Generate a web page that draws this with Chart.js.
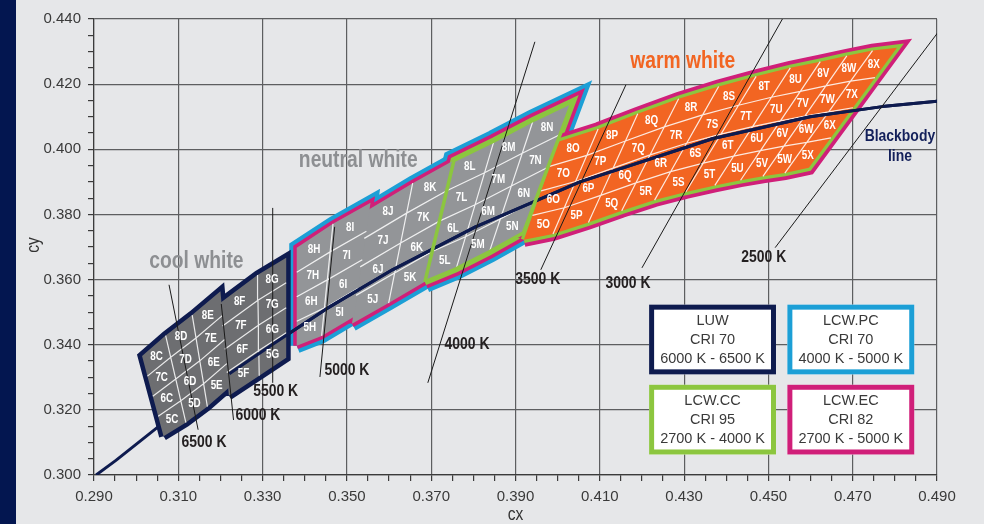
<!DOCTYPE html>
<html>
<head>
<meta charset="utf-8">
<title>LED colour bins</title>
<script src="https://cdn.jsdelivr.net/npm/chart.js@4.4.1/dist/chart.umd.min.js"></script>
<style>
  body { margin: 0; background: #e6e7e9; }
  canvas { display: block; }
</style>
</head>
<body>
<canvas id="bins" width="984" height="524"></canvas>
<script>
// Axis tick labels
const xTickLabels = ['0.290', '0.310', '0.330', '0.350', '0.370', '0.390', '0.410', '0.430', '0.450', '0.470', '0.490'];
const yTickLabels = ['0.300', '0.320', '0.340', '0.360', '0.380', '0.400', '0.420', '0.440'];

// Bin rows, from the lower edge to the upper edge
const binRows = ['5', '6', '7', '8'];

// Cool white (LUW): bin edges, lower end and upper end of each edge.
// An edge is repeated where two groups of bins meet with a step.
const coolGroups = [['C', 'D', 'E'], ['F', 'G']];
const coolLowerX = [0.3065, 0.3118, 0.3169, 0.3220, 0.3220, 0.3292, 0.3356];
const coolLowerY = [0.3119, 0.3161, 0.3210, 0.3268, 0.3243, 0.3305, 0.3360];
const coolUpperX = [0.3014, 0.3070, 0.3133, 0.3200, 0.3200, 0.3288, 0.3356];
const coolUpperY = [0.3365, 0.3428, 0.3491, 0.3564, 0.3529, 0.3614, 0.3667];

// Neutral white (LCW.PC)
const neutralGroups = [['H', 'I'], ['J', 'K'], ['L', 'M', 'N']];
const neutralLowerX = [0.3381, 0.3440, 0.3517, 0.3512, 0.3599, 0.3685, 0.3685, 0.3759, 0.3838, 0.3919];
const neutralLowerY = [0.3397, 0.3427, 0.3486, 0.3464, 0.3528, 0.3593, 0.3593, 0.3633, 0.3685, 0.3744];
const neutralUpperX = [0.3381, 0.3467, 0.3556, 0.3551, 0.3656, 0.3754, 0.3754, 0.3849, 0.3942, 0.4035];
const neutralUpperY = [0.3698, 0.3771, 0.3836, 0.3814, 0.3896, 0.3966, 0.3966, 0.4026, 0.4089, 0.4146];

// Warm white
const warmGroups = [['O', 'P', 'Q', 'R', 'S', 'T', 'U', 'V', 'W', 'X']];
const warmLowerX = [0.3920, 0.3989, 0.4073, 0.4152, 0.4230, 0.4304, 0.4373, 0.4434, 0.4487, 0.4539, 0.4596];
const warmLowerY = [0.3722, 0.3740, 0.3775, 0.3811, 0.3844, 0.3869, 0.3889, 0.3905, 0.3917, 0.3927, 0.3943];
const warmUpperX = [0.4001, 0.4096, 0.4190, 0.4287, 0.4382, 0.4471, 0.4552, 0.4623, 0.4686, 0.4747, 0.4805];
const warmUpperY = [0.4023, 0.4062, 0.4109, 0.4155, 0.4193, 0.4224, 0.4250, 0.4269, 0.4287, 0.4303, 0.4312];

// Blackbody line
const blackbodyX = [0.2905, 0.2952, 0.3064, 0.3135, 0.3221, 0.3325, 0.3451, 0.3608, 0.3805, 0.4053, 0.4369, 0.4599, 0.4770, 0.4910];
const blackbodyY = [0.3000, 0.3045, 0.3160, 0.3230, 0.3311, 0.3402, 0.3510, 0.3630, 0.3762, 0.3900, 0.4033, 0.4100, 0.4131, 0.4149];

// Isotemperature lines
const cctNames = ['6500 K', '6000 K', '5500 K', '5000 K', '4000 K', '3500 K', '3000 K', '2500 K'];
const cctLowX = [0.3147, 0.3231, 0.3324, 0.3436, 0.3692, 0.3960, 0.4200, 0.4516];
const cctLowY = [0.3139, 0.3169, 0.3283, 0.3301, 0.3283, 0.3630, 0.3636, 0.3698];
const cctHighX = [0.3078, 0.3202, 0.3324, 0.3471, 0.3946, 0.4162, 0.4535, 0.4907];
const cctHighY = [0.3584, 0.3525, 0.3820, 0.3762, 0.4330, 0.4198, 0.4404, 0.4367];
const cctLabelX = [0.3161, 0.3289, 0.3331, 0.3500, 0.3785, 0.3953, 0.4167, 0.4489];
const cctLabelY = [0.3099, 0.3182, 0.3258, 0.3320, 0.3400, 0.3602, 0.3590, 0.3667];

// Region names
const regionNames = ['cool white', 'neutral white', 'warm white'];
const regionX = [0.3143, 0.3527, 0.4297];
const regionY = [0.3655, 0.3965, 0.4269];

// Product legend
const productNames = ['LUW', 'LCW.PC', 'LCW.CC', 'LCW.EC'];
const productCri = ['CRI 70', 'CRI 70', 'CRI 95', 'CRI 82'];
const productRange = ['6000 K - 6500 K', '4000 K - 5000 K', '2700 K - 4000 K', '2700 K - 5000 K'];

const NAVY = '#0e1b4f';
const CYAN = '#1c9fd6';
const GREEN = '#8cc63f';
const MAGENTA = '#d01f79';
const productColors = [NAVY, CYAN, GREEN, MAGENTA];

const SANS = '"Liberation Sans", Arial, sans-serif';

// each bin edge is split into the four rows 5..8
function binNodes(lowX, lowY, upX, upY) {
    return [0, 1, 2, 3, 4].map(r => lowX.map((x, c) => ({
        x: x + (upX[c] - x) * r / 4,
        y: lowY[c] + (upY[c] - lowY[c]) * r / 4
    })));
}

function groupsOf(groups, lowX, lowY, upX, upY) {
    let start = 0;
    return groups.map(cols => {
        const end = start + cols.length + 1;
        const g = {
            cols: cols,
            nodes: binNodes(lowX.slice(start, end), lowY.slice(start, end), upX.slice(start, end), upY.slice(start, end))
        };
        start = end;
        return g;
    });
}

function outline(nodes) {
    const last = nodes[0].length - 1;
    const pts = [];
    for (let c = 0; c <= last; c++) pts.push(nodes[0][c]);
    for (let r = 1; r <= 4; r++) pts.push(nodes[r][last]);
    for (let c = last - 1; c >= 0; c--) pts.push(nodes[4][c]);
    for (let r = 3; r >= 0; r--) pts.push(nodes[r][0]);
    return pts;
}

function innerLines(nodes) {
    const gap = { x: NaN, y: NaN };
    const last = nodes[0].length - 1;
    const pts = [];
    for (let r = 1; r <= 3; r++) pts.push(...nodes[r], gap);
    for (let c = 1; c < last; c++) {
        for (let r = 0; r <= 4; r++) pts.push(nodes[r][c]);
        pts.push(gap);
    }
    return pts;
}

const cool = groupsOf(coolGroups, coolLowerX, coolLowerY, coolUpperX, coolUpperY);
const neutral = groupsOf(neutralGroups, neutralLowerX, neutralLowerY, neutralUpperX, neutralUpperY);
const warm = groupsOf(warmGroups, warmLowerX, warmLowerY, warmUpperX, warmUpperY);
const blocks = cool.concat(neutral, warm);
const ccNeutral = neutral[2];

const closed = pts => pts.concat([pts[0]]);

function line(points, color, width, order, extra) {
    return Object.assign({
        data: points, borderColor: color, borderWidth: width, order: order,
        pointRadius: 0, pointHoverRadius: 0, tension: 0, fill: false,
        borderJoinStyle: 'miter', borderCapStyle: 'butt'
    }, extra || {});
}
function area(points, color, order) {
    return line(points, 'rgba(0,0,0,0)', 0, order, { fill: 'shape', backgroundColor: color });
}

const isoPoints = [];
cctNames.forEach((n, i) => {
    isoPoints.push({ x: cctLowX[i], y: cctLowY[i] }, { x: cctHighX[i], y: cctHighY[i] }, { x: NaN, y: NaN });
});
const blackbody = blackbodyX.map((x, i) => ({ x: x, y: blackbodyY[i] }));
// the line shows again across the F and G bins of LUW
const coolStep = coolLowerX[coolGroups[0].length];

const datasets = [];
// outlines first, the bin fills then cover their inner half
neutral.forEach(g => {
    const wide = g === ccNeutral;
    datasets.push(line(closed(outline(g.nodes)), CYAN, wide ? 22 : 15, 30));
    datasets.push(line(closed(outline(g.nodes)), MAGENTA, wide ? 14 : 7, 29));
});
datasets.push(line(closed(outline(ccNeutral.nodes)), GREEN, 7, 28));
warm.forEach(g => {
    datasets.push(line(closed(outline(g.nodes)), MAGENTA, 14, 27));
    datasets.push(line(closed(outline(g.nodes)), GREEN, 6.5, 26));
});
cool.forEach(g => datasets.push(line(closed(outline(g.nodes)), NAVY, 9, 25)));

neutral.forEach(g => {
    datasets.push(area(outline(g.nodes), '#939598', 20));
    datasets.push(line(innerLines(g.nodes), 'rgba(255,255,255,0.85)', 1.2, 19));
});
warm.forEach(g => {
    datasets.push(area(outline(g.nodes), '#f26522', 20));
    datasets.push(line(innerLines(g.nodes), 'rgba(255,255,255,0.85)', 1.2, 19));
});
datasets.push(line(blackbody, NAVY, 3, 18, { borderJoinStyle: 'round' }));
cool.forEach(g => {
    datasets.push(area(outline(g.nodes), '#6d6e71', 17));
    datasets.push(line(innerLines(g.nodes), 'rgba(255,255,255,0.85)', 1.2, 16));
});
datasets.push(line(blackbody, NAVY, 3, 15.5, {
    borderJoinStyle: 'round',
    segment: { borderColor: s => s.p0.parsed.x < coolStep - 0.0005 ? 'rgba(0,0,0,0)' : NAVY }
}));
datasets.push(line(closed(outline(ccNeutral.nodes)), GREEN, 3.5, 15));
datasets.push(line(isoPoints, '#1a1a1a', 1, 14));

// text squeezed to a narrow face
function narrowText(ctx, text, x, y, font, color) {
    ctx.save();
    ctx.font = font;
    ctx.fillStyle = color;
    ctx.translate(x, y);
    ctx.scale(0.82, 1);
    ctx.fillText(text, 0, 0);
    ctx.restore();
}

// page background and the dark strip on the left
const backdrop = {
    id: 'backdrop',
    beforeDraw(chart) {
        const { ctx, width, height } = chart;
        ctx.save();
        ctx.fillStyle = '#e6e7e9';
        ctx.fillRect(0, 0, width, height);
        ctx.fillStyle = '#031650';
        ctx.fillRect(0, 0, 16, height);
        ctx.restore();
    }
};

const binLabels = {
    id: 'binLabels',
    afterDatasetsDraw(chart) {
        const { ctx, chartArea, scales: { x, y } } = chart;
        const px = p => ({ x: x.getPixelForValue(p.x), y: y.getPixelForValue(p.y) });
        ctx.save();
        ctx.textAlign = 'center';
        ctx.textBaseline = 'middle';

        // bin names in the cells
        blocks.forEach(b => {
            for (let r = 0; r < 4; r++) {
                for (let c = 0; c < b.cols.length; c++) {
                    const q = [b.nodes[r][c], b.nodes[r][c + 1], b.nodes[r + 1][c + 1], b.nodes[r + 1][c]].map(px);
                    const cx = (q[0].x + q[1].x + q[2].x + q[3].x) / 4;
                    const cy = (q[0].y + q[1].y + q[2].y + q[3].y) / 4;
                    narrowText(ctx, binRows[r] + b.cols[c], cx, cy + 0.5, 'bold 12px ' + SANS, '#ffffff');
                }
            }
        });

        // colour temperature labels
        cctNames.forEach((n, i) => {
            narrowText(ctx, n, x.getPixelForValue(cctLabelX[i]), y.getPixelForValue(cctLabelY[i]), 'bold 17px ' + SANS, '#231f20');
        });

        // region names
        regionNames.forEach((n, i) => {
            narrowText(ctx, n, x.getPixelForValue(regionX[i]), y.getPixelForValue(regionY[i]),
                'bold 23.5px ' + SANS, i === 2 ? '#f26522' : '#8d8f92');
        });
        narrowText(ctx, 'Blackbody', x.getPixelForValue(0.4812), y.getPixelForValue(0.4041), 'bold 17px ' + SANS, '#13205a');
        narrowText(ctx, 'line', x.getPixelForValue(0.4812), y.getPixelForValue(0.3977), 'bold 17px ' + SANS, '#13205a');

        // product boxes
        const boxLeft = [0.4217, 0.4545];
        const boxTop = [0.3523, 0.3277];
        ctx.font = '14.5px ' + SANS;
        productNames.forEach((n, i) => {
            const l = x.getPixelForValue(boxLeft[i % 2]);
            const r = x.getPixelForValue(boxLeft[i % 2] + 0.0301);
            const t = y.getPixelForValue(boxTop[Math.floor(i / 2)]);
            const b = y.getPixelForValue(boxTop[Math.floor(i / 2)] - 0.0214);
            ctx.fillStyle = '#ffffff';
            ctx.fillRect(l, t, r - l, b - t);
            ctx.strokeStyle = productColors[i];
            ctx.lineWidth = 5;
            ctx.strokeRect(l + 2.5, t + 2.5, r - l - 5, b - t - 5);
            const mx = (l + r) / 2, my = (t + b) / 2 + 0.5;
            ctx.fillStyle = '#3a3a3a';
            ctx.fillText(n, mx, my - 19);
            ctx.fillText(productCri[i], mx, my);
            ctx.fillText(productRange[i], mx, my + 19);
        });

        // axis titles
        narrowText(ctx, 'cx', (chartArea.left + chartArea.right) / 2, chart.height - 9, '19px ' + SANS, '#333333');
        ctx.translate(34, (chartArea.top + chartArea.bottom) / 2 - 2);
        ctx.rotate(-Math.PI / 2);
        narrowText(ctx, 'cy', 0, 0, '19px ' + SANS, '#333333');
        ctx.restore();
    }
};

function tickText(labels, v) {
    const hit = labels.find(t => Math.abs(parseFloat(t) - v) < 1e-6);
    return hit || '';
}

const axisFont = { family: SANS, size: 15 };

new Chart(document.getElementById('bins'), {
    type: 'line',
    data: { datasets: datasets },
    options: {
        responsive: false,
        animation: false,
        events: [],
        layout: { padding: { left: 0, top: 19, right: 47, bottom: 0 } },
        plugins: { legend: { display: false }, tooltip: { enabled: false } },
        scales: {
            x: {
                type: 'linear', min: 0.29, max: 0.49,
                afterFit: s => { s.height = 49; },
                border: { color: '#3b3b3b', width: 1.2 },
                grid: {
                    color: c => tickText(xTickLabels, c.tick ? c.tick.value : NaN) ? '#5d5e60' : 'rgba(0,0,0,0)',
                    lineWidth: 1.2, tickColor: '#3b3b3b', tickLength: 6
                },
                ticks: {
                    stepSize: 0.005, autoSkip: false, maxRotation: 0, padding: 7,
                    color: '#3a3a3a', font: axisFont,
                    callback: v => tickText(xTickLabels, v)
                }
            },
            y: {
                type: 'linear', min: 0.30, max: 0.44,
                afterFit: s => { s.width = 94; },
                border: { color: '#3b3b3b', width: 1.2 },
                grid: {
                    color: c => tickText(yTickLabels, c.tick ? c.tick.value : NaN) ? '#5d5e60' : 'rgba(0,0,0,0)',
                    lineWidth: 1.2, tickColor: '#3b3b3b', tickLength: 6
                },
                ticks: {
                    stepSize: 0.005, autoSkip: false, padding: 7,
                    color: '#3a3a3a', font: axisFont,
                    callback: v => tickText(yTickLabels, v)
                }
            }
        }
    },
    plugins: [backdrop, binLabels]
});
</script>
</body>
</html>
